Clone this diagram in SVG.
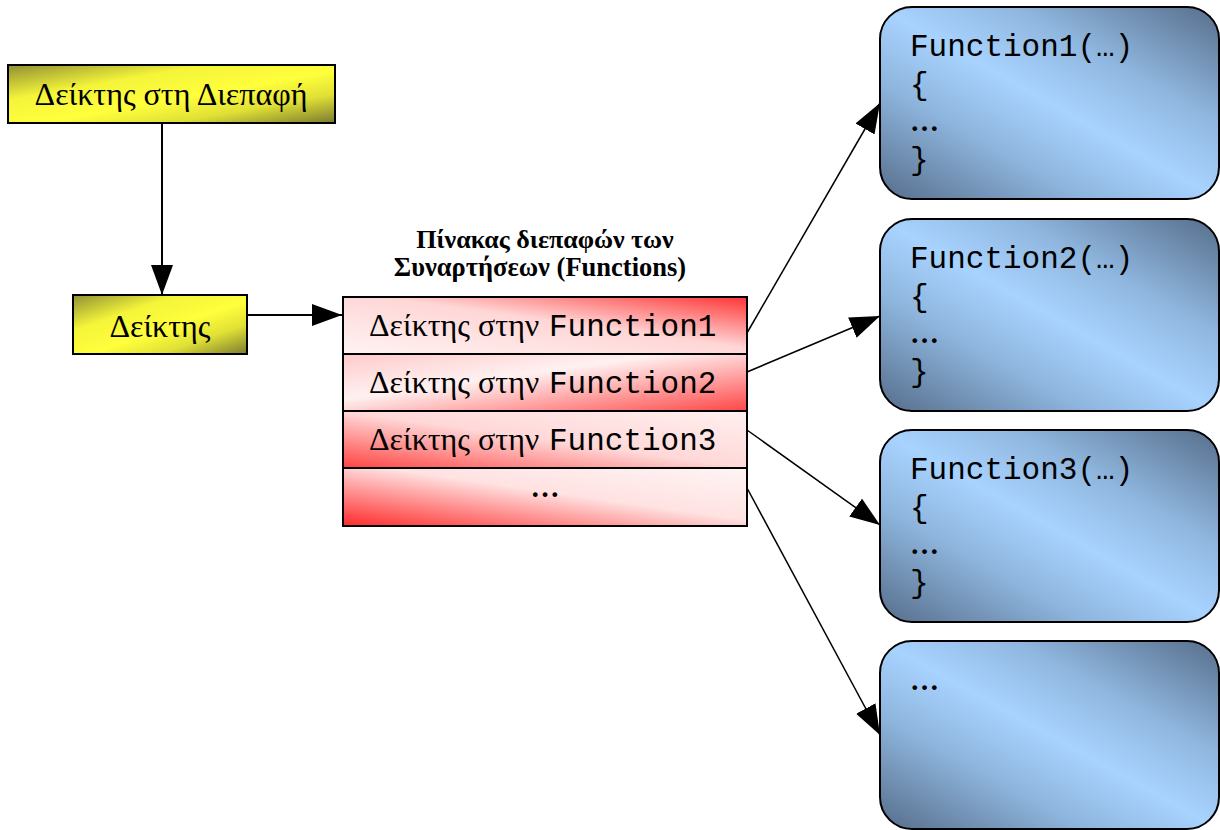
<svg xmlns="http://www.w3.org/2000/svg" width="1220" height="830" viewBox="0 0 1220 830">
<style>
.serif{font-family:"Liberation Serif","DejaVu Serif","Times New Roman",serif;fill:#000}
.mono{font-family:"Liberation Mono","Courier New",monospace;fill:#000}
.box{stroke:#000;stroke-width:2}
.conn{stroke:#000;fill:none}
</style>
<defs>
<linearGradient id="yellow" x1="0" y1="0" x2="1" y2="1">
<stop offset="0" stop-color="#8f8f34"/>
<stop offset="0.3" stop-color="#f4f43a"/>
<stop offset="0.55" stop-color="#ffff3c"/>
<stop offset="0.75" stop-color="#e0e036"/>
<stop offset="1" stop-color="#7a7a30"/>
</linearGradient>
<linearGradient id="blue" x1="0" y1="1" x2="1" y2="0">
<stop offset="0" stop-color="#566d8a"/>
<stop offset="0.3" stop-color="#8db4dc"/>
<stop offset="0.5" stop-color="#a8d3ff"/>
<stop offset="0.7" stop-color="#8fb6de"/>
<stop offset="1" stop-color="#566d8a"/>
</linearGradient>
<linearGradient id="r1" x1="0" y1="1" x2="1" y2="0">
<stop offset="0" stop-color="#fff3f3"/>
<stop offset="0.55" stop-color="#ffd6d6"/>
<stop offset="1" stop-color="#ff3434"/>
</linearGradient>
<linearGradient id="r2" x1="0" y1="0" x2="1" y2="1">
<stop offset="0" stop-color="#ffcaca"/>
<stop offset="0.4" stop-color="#fff1f1"/>
<stop offset="1" stop-color="#ff4646"/>
</linearGradient>
<linearGradient id="r3" x1="0" y1="1" x2="1" y2="0">
<stop offset="0" stop-color="#ff4242"/>
<stop offset="0.5" stop-color="#ffd8d8"/>
<stop offset="1" stop-color="#fff0f0"/>
</linearGradient>
<linearGradient id="r4" x1="0" y1="1" x2="1" y2="0">
<stop offset="0" stop-color="#ff2a2a"/>
<stop offset="0.55" stop-color="#ffe2e2"/>
<stop offset="1" stop-color="#fff4f4"/>
</linearGradient>
<marker id="arr" markerUnits="userSpaceOnUse" markerWidth="30" markerHeight="22" refX="30" refY="11" orient="auto">
<path d="M0,0 L30,11 L0,22 Z" fill="#000"/>
</marker>
</defs>

<g id="connectors">
<line class="conn" x1="162" y1="123" x2="162" y2="295" stroke-width="2" marker-end="url(#arr)"/>
<line class="conn" x1="247" y1="315" x2="342" y2="315" stroke-width="2" marker-end="url(#arr)"/>
<line class="conn" x1="747" y1="333" x2="880" y2="103" stroke-width="1.5" marker-end="url(#arr)"/>
<line class="conn" x1="747" y1="372" x2="880" y2="316" stroke-width="1.5" marker-end="url(#arr)"/>
<line class="conn" x1="747" y1="430" x2="880" y2="525" stroke-width="1.5" marker-end="url(#arr)"/>
<line class="conn" x1="747" y1="488" x2="880" y2="735" stroke-width="1.5" marker-end="url(#arr)"/>
</g>

<g id="interface-pointer">
<rect class="box" x="8" y="65" width="327" height="58" fill="url(#yellow)"/>
<text class="serif" x="171" y="105" font-size="32" text-anchor="middle">Δείκτης στη Διεπαφή</text>
</g>

<g id="pointer">
<rect class="box" x="73" y="295" width="174" height="59" fill="url(#yellow)"/>
<text class="serif" x="160" y="337" font-size="32" text-anchor="middle">Δείκτης</text>
</g>

<g id="table">
<text class="serif" x="545" y="248" font-size="26" font-weight="bold" text-anchor="middle">Πίνακας διεπαφών των</text>
<text class="serif" x="540" y="276" font-size="26.5" font-weight="bold" text-anchor="middle">Συναρτήσεων (Functions)</text>
<rect x="343" y="297" width="404" height="57" fill="url(#r1)"/>
<rect x="343" y="354" width="404" height="57" fill="url(#r2)"/>
<rect x="343" y="411" width="404" height="57" fill="url(#r3)"/>
<rect x="343" y="468" width="404" height="58" fill="url(#r4)"/>
<rect x="343" y="297" width="404" height="229" fill="none" stroke="#000" stroke-width="2"/>
<line x1="343" y1="354" x2="747" y2="354" stroke="#000" stroke-width="2"/>
<line x1="343" y1="411" x2="747" y2="411" stroke="#000" stroke-width="2"/>
<line x1="343" y1="468" x2="747" y2="468" stroke="#000" stroke-width="2"/>
<text class="serif" x="369" y="336" font-size="32">Δείκτης στην <tspan class="mono" x="549" font-size="31">Function1</tspan></text>
<text class="serif" x="369" y="393" font-size="32">Δείκτης στην <tspan class="mono" x="549" font-size="31">Function2</tspan></text>
<text class="serif" x="369" y="450" font-size="32">Δείκτης στην <tspan class="mono" x="549" font-size="31">Function3</tspan></text>
<text class="serif" x="545" y="497" font-size="29" font-weight="bold" text-anchor="middle">…</text>
</g>

<g id="function1">
<rect class="box" x="880" y="7" width="339" height="192" rx="32" fill="url(#blue)"/>
<text class="mono" x="910" y="56" font-size="31">Function1(…)</text>
<text class="mono" x="910" y="94" font-size="31">{</text>
<text class="serif" x="910" y="131" font-size="29" font-weight="bold">…</text>
<text class="mono" x="910" y="169" font-size="31">}</text>
</g>

<g id="function2">
<rect class="box" x="880" y="219" width="339" height="192" rx="32" fill="url(#blue)"/>
<text class="mono" x="910" y="268" font-size="31">Function2(…)</text>
<text class="mono" x="910" y="306" font-size="31">{</text>
<text class="serif" x="910" y="343" font-size="29" font-weight="bold">…</text>
<text class="mono" x="910" y="381" font-size="31">}</text>
</g>

<g id="function3">
<rect class="box" x="880" y="430" width="339" height="192" rx="32" fill="url(#blue)"/>
<text class="mono" x="910" y="479" font-size="31">Function3(…)</text>
<text class="mono" x="910" y="517" font-size="31">{</text>
<text class="serif" x="910" y="554" font-size="29" font-weight="bold">…</text>
<text class="mono" x="910" y="592" font-size="31">}</text>
</g>

<g id="function-more">
<rect class="box" x="880" y="641" width="339" height="188" rx="32" fill="url(#blue)"/>
<text class="serif" x="910" y="690" font-size="29" font-weight="bold">…</text>
</g>
</svg>
